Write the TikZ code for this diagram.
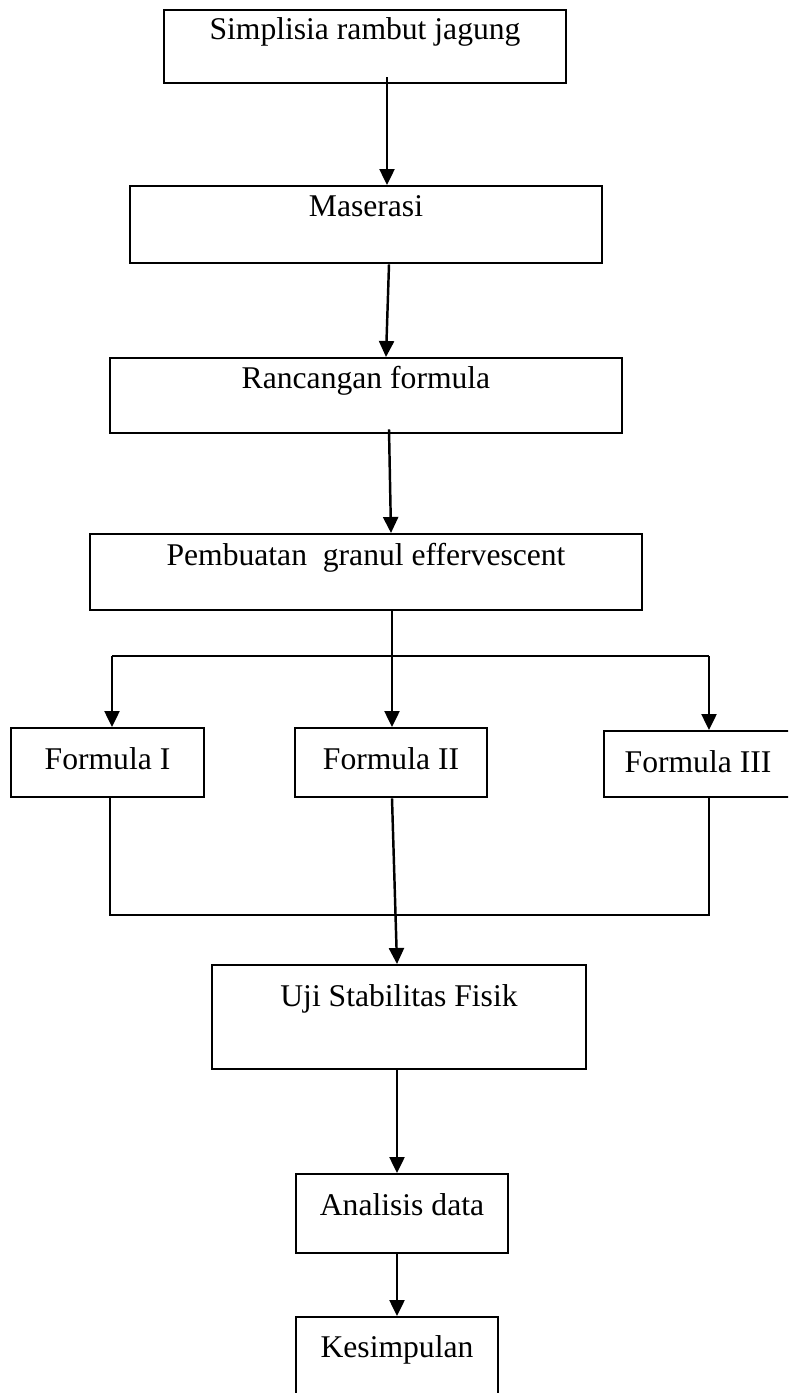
\documentclass[tikz,border=0pt]{standalone}
\usepackage{fontspec}
\setmainfont{Liberation Serif}
\usepackage{tikz}
\usetikzlibrary{calc}
\usetikzlibrary{arrows.meta}
\newcommand\boxfont[0]{\fontsize{18}{22}\selectfont}

\begin{document}
\begin{tikzpicture} [x=0.02cm, y=-0.02cm,
  box/.style={draw=black, line width=1.4pt, inner sep=0pt, anchor=north, font=\boxfont},
  arr/.style={black, line width=1.4pt, -{Triangle[length=0.32cm,width=0.3cm]}},
  link/.style={black, line width=1pt}]

\useasboundingbox (0,0) rectangle (788,1393);
\clip (0,0) rectangle (788,1393);

\node[box, minimum width=8.04cm, text height=0.58cm, text depth=0.88cm] (sim) at (365,9) {Simplisia rambut jagung};
\node[box, minimum width=9.44cm, text height=0.60cm, text depth=0.94cm] (mas) at (366,185) {Maserasi};
\node[box, minimum width=10.24cm, text height=0.60cm, text depth=0.90cm] (ranc) at (366,357) {Rancangan formula};
\node[box, minimum width=11.04cm, text height=0.62cm, text depth=0.90cm] (pemb) at (366,533) {Pembuatan~ granul effervescent};
\node[box, minimum width=3.86cm, text height=0.82cm, text depth=0.56cm] (f1) at (107.5,727) {Formula I};
\node[box, minimum width=3.84cm, text height=0.82cm, text depth=0.56cm] (f2) at (391,727) {Formula II};
\node[box, minimum width=3.76cm, text height=0.82cm, text depth=0.50cm] (f3) at (698,730) {Formula III};
\node[box, minimum width=7.48cm, text height=0.82cm, text depth=1.26cm] (uji) at (399,964) {Uji Stabilitas Fisik};
\node[box, minimum width=4.24cm, text height=0.82cm, text depth=0.76cm] (ana) at (402,1173) {Analisis data};
\node[box, minimum width=4.04cm, text height=0.80cm, text depth=1.20cm] (kes) at (397,1316) {Kesimpulan};

\coordinate (jl) at (112,656);
\coordinate (jr) at (709,656);
\coordinate (jb) at (110,915);

\draw[arr] ($(sim.south)+(22,-7)$) -- ($(mas.north)+(21,0)$);
\draw[arr] ($(mas.south)+(23,0)$) -- ($(ranc.north)+(20,0)$);
\draw[arr] ($(ranc.south)+(23,-5)$) -- ($(pemb.north)+(25,0)$);
\draw[arr] ($(pemb.south)+(26,0)$) -- ($(f2.north)+(1,0)$);
\draw[link, line width=1.4pt] (jl) -- (jr);
\draw[arr] (jl) -- (jl |- f1.north);
\draw[arr] (jr) -- (jr |- f3.north);

\draw[link] (jb |- f1.south) -- (jb) -- (jb -| jr) -- (jr |- f3.south);
\draw[arr] ($(f2.south)+(1,0)$) -- ($(uji.north)+(-2,0)$);
\draw[arr] ($(uji.south)+(-2,0)$) -- ($(ana.north)+(-5,0)$);
\draw[arr] ($(ana.south)+(-5,0)$) -- (kes.north);

\end{tikzpicture}
\end{document}
